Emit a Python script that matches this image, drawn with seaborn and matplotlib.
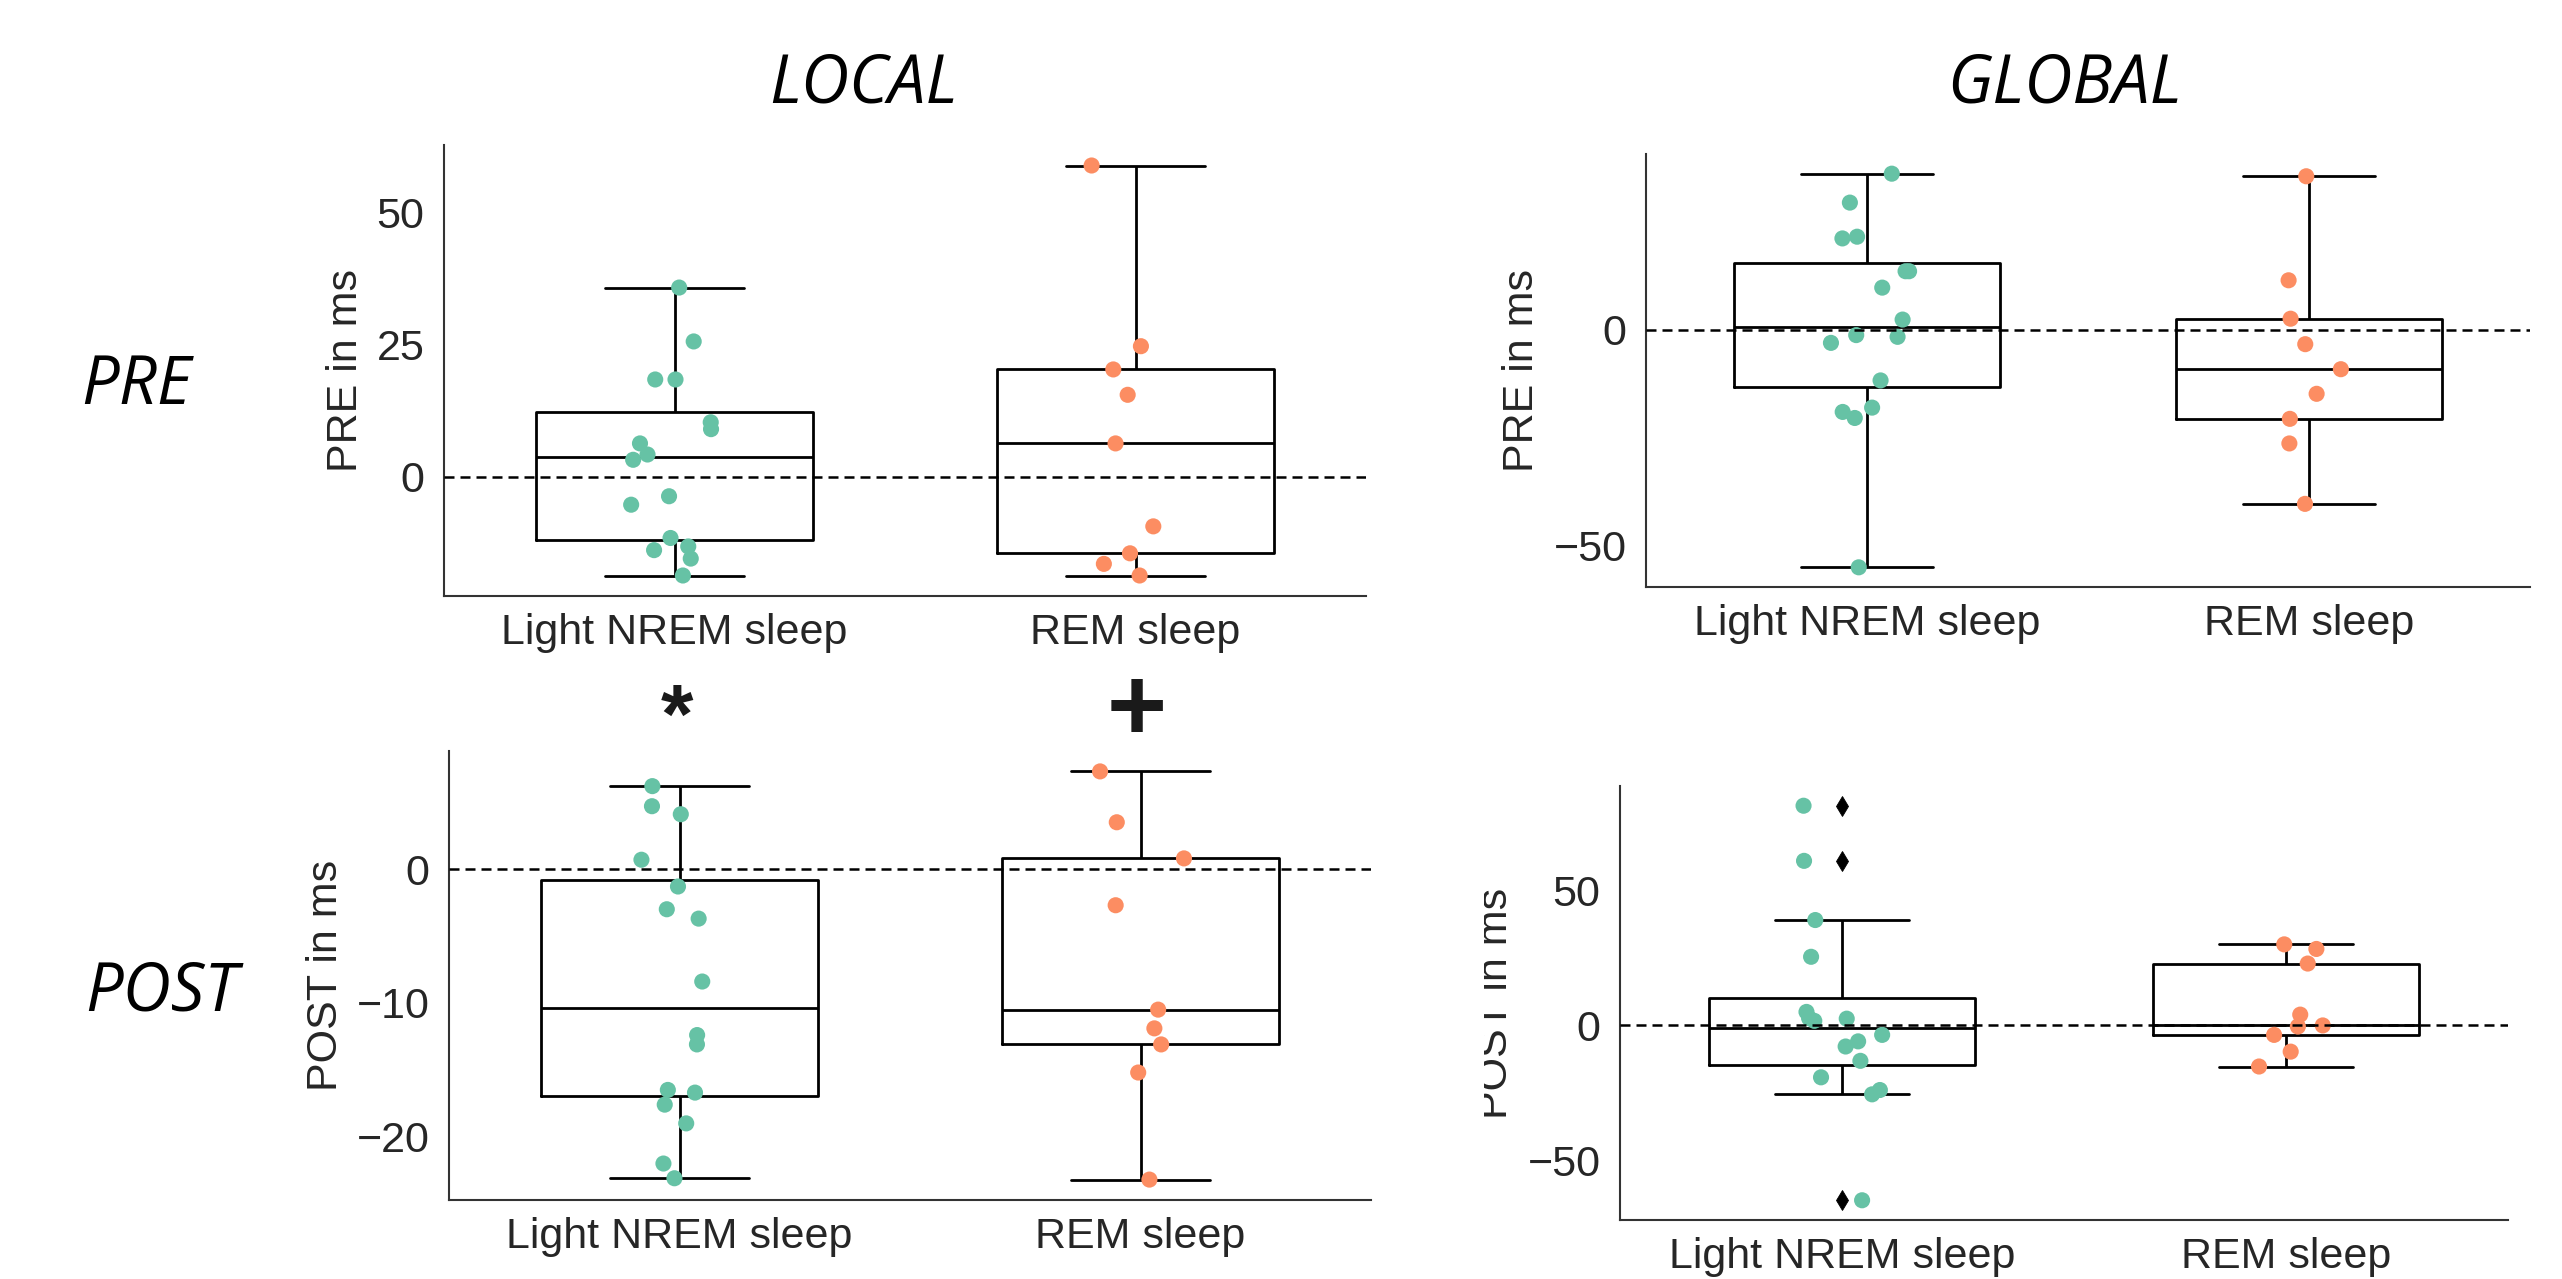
"""
Boxplots of PRE / POST timing (LOCAL vs GLOBAL) per sleep stage
"""
import numpy as np
import pandas as pd
import matplotlib
matplotlib.use("Agg")
import matplotlib.pyplot as plt
import seaborn as sns
from matplotlib.transforms import Bbox, TransformedBbox

# Data (ms)
STAGES = ["Light NREM sleep", "REM sleep"]
PALETTE = ["#66c2a5", "#fc8d62"]

local_pre_nrem = [35.8, 25.6, 18.4, 18.4, 10.3, 9.0, 6.3, 4.2, 3.2, -3.7, -5.3,
                  -11.6, -13.2, -13.9, -15.5, -18.7]
local_pre_rem = [58.9, 24.7, 20.3, 15.5, 6.3, -9.4, -14.5, -16.5, -18.7]

global_pre_nrem = [36.2, 29.5, 21.2, 21.6, 13.6, 13.6, 9.8, 2.4, -1.6, -1.2, -3.0,
                   -11.7, -18.0, -20.4, -19.0, -55.0]
global_pre_rem = [35.6, 11.5, 2.6, -3.3, -9.1, -14.8, -20.6, -26.3, -40.3]

local_post_nrem = [6.2, 4.7, 4.1, 0.7, -1.3, -3.0, -3.7, -8.4, -12.4, -13.1, -16.5,
                   -16.7, -17.6, -19.0, -22.0, -23.1]
local_post_rem = [7.3, 3.5, 0.8, -2.7, -10.5, -11.9, -13.1, -15.2, -23.2]

global_post_nrem = [81.3, 60.9, 39.0, 25.4, 5.0, 2.7, 2.5, 1.7, -3.5, -5.9, -7.8,
                    -13.1, -19.2, -23.9, -25.5, -64.7]
global_post_rem = [30.0, 28.3, 22.9, 4.0, 0.0, -0.4, -3.5, -9.7, -15.2]

W, H = 2562, 1279
DPI = 200


def rect(left, top, right, bottom):
    """pixel box -> figure fraction"""
    return [left / W, 1 - bottom / H, (right - left) / W, (bottom - top) / H]


def draw_panel(ax, nrem, rem, ylabel, yticks):
    df = pd.DataFrame({
        "stage": [STAGES[0]] * len(nrem) + [STAGES[1]] * len(rem),
        "value": nrem + rem,
    })
    sns.stripplot(data=df, x="stage", y="value", hue="stage", palette=PALETTE,
                  size=5.8, jitter=True, legend=False, ax=ax)
    sns.boxplot(data=df, x="stage", y="value", width=0.6, fill=False,
                color="black", linewidth=1.0,
                flierprops=dict(marker="d", markerfacecolor="black",
                                markeredgecolor="black", markersize=5,
                                markeredgewidth=0.3),
                ax=ax)
    ax.axhline(0, color="black", lw=0.9, ls=(0, (4, 2.4)), zorder=3)
    ax.set_yticks(yticks)
    ax.set_xlabel("")
    ax.set_ylabel(ylabel, fontsize=15.5, color=".15")
    ax.tick_params(axis="both", labelsize=15.5, labelcolor=".15", length=0)
    ax.tick_params(axis="y", pad=7)
    ax.tick_params(axis="x", pad=6)
    for s in ax.spines.values():
        s.set_linewidth(0.75)
        s.set_color(".2")
    sns.despine(ax=ax)


def main():
    np.random.seed(3)
    sns.set_theme(style="white")
    plt.rcParams["font.family"] = ["Liberation Sans", "DejaVu Sans"]

    fig = plt.figure(figsize=(W / DPI, H / DPI), dpi=DPI)

    ax1 = fig.add_axes(rect(444, 145, 1366, 596))
    ax2 = fig.add_axes(rect(1646, 154, 2530, 587))
    ax3 = fig.add_axes(rect(449, 751, 1371, 1200))
    ax4 = fig.add_axes(rect(1620, 786, 2508, 1220))

    draw_panel(ax1, local_pre_nrem, local_pre_rem, "PRE in ms", [0, 25, 50])
    draw_panel(ax2, global_pre_nrem, global_pre_rem, "PRE in ms", [-50, 0])
    draw_panel(ax3, local_post_nrem, local_post_rem, "POST in ms", [-20, -10, 0])
    draw_panel(ax4, global_post_nrem, global_post_rem, "POST in ms", [-50, 0, 50])

    # the lower-right panel was cropped in the original: label tops cut off
    lab = ax4.yaxis.label
    lab.set_clip_box(TransformedBbox(Bbox([[1484 / W, 0], [1, 1]]), fig.transFigure))
    lab.set_clip_on(True)

    # row / column headers
    head = dict(family=["Open Sans", "DejaVu Sans"], style="italic", fontsize=24,
                color="black", ha="center", va="center")
    fig.text(863 / W, 1 - 85 / H, "LOCAL", **head)
    fig.text(2064 / W, 1 - 85 / H, "GLOBAL", **head)
    fig.text(136 / W, 1 - 386 / H, "PRE", **head)
    fig.text(162 / W, 1 - 993 / H, "POST", **head)

    # significance marks
    fig.text(677 / W, 1 - 743 / H, "*", fontsize=30, fontweight="bold",
             color="#1a1a1a", ha="center", va="baseline")
    fig.text(1137 / W, 1 - 740 / H, "+", fontsize=37, fontweight="bold",
             color="#1a1a1a", ha="center", va="baseline")

    fig.savefig("out.png", dpi=DPI, facecolor="white")
    plt.close(fig)


if __name__ == "__main__":
    main()
